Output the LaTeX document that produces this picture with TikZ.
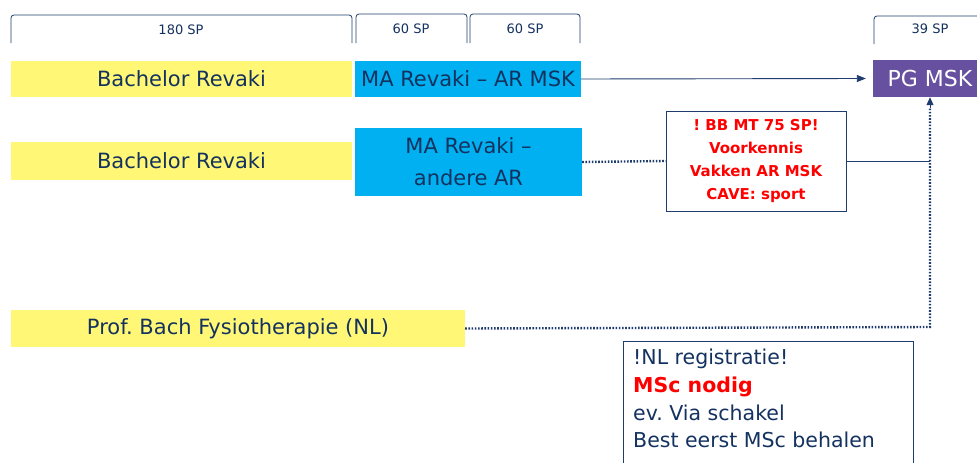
\documentclass[tikz,border=0pt]{standalone}
\usepackage{fontspec}
\setmainfont{DejaVu Sans}
\usetikzlibrary{arrows.meta}
\frenchspacing
\definecolor{navy}{RGB}{20,50,95}
\definecolor{lineblue}{RGB}{31,60,110}
\definecolor{ylw}{RGB}{255,247,117}
\definecolor{cyanb}{RGB}{0,176,240}
\definecolor{purp}{RGB}{104,80,160}
\definecolor{redt}{RGB}{255,0,0}
\begin{document}
\begin{tikzpicture}[x=1pt,y=-1pt,
  bar/.style={minimum height=36, inner sep=0, text=navy, font=\fontsize{21}{24}\selectfont},
  ybar/.style={bar, fill=ylw},
  cbar/.style={bar, fill=cyanb},
  tab/.style={draw=lineblue, line width=0.8pt, rounded corners=3pt},
  tablbl/.style={text=navy, font=\fontsize{13}{15}\selectfont},
  dots/.style={draw=lineblue, line width=2.4pt, dash pattern=on 1.6pt off 1.6pt},
  conn/.style={draw=lineblue, line width=0.9pt}
]
\clip (0,0) rectangle (977,463);
\fill[white] (0,0) rectangle (977,463);
% tabs
\draw[tab] (11,43) -- (11,15) -- (352,15) -- (352,43);
\node[tablbl] (t180) at (181,30) {180 SP};
\draw[tab] (356,43) -- (356,14) -- (467,14) -- (467,43);
\node[tablbl] (t60a) at (411,29) {60 SP};
\draw[tab] (470,43) -- (470,14) -- (580,14) -- (580,43);
\node[tablbl] (t60b) at (525,29) {60 SP};
\draw[tab] (874,44) -- (874,16) -- (1000,16);
\node[tablbl] (t39) at (930,29) {39 SP};
% row 1
\node[ybar, minimum width=341] (b1) at (181.5,79) {Bachelor Revaki};
\node[cbar, minimum width=226] (ma1) at (468,79) {MA Revaki – AR MSK};
\node[bar, fill=purp, text=white, minimum width=114, minimum height=37, font=\fontsize{22}{24}\selectfont] (pg) at (930,78.5) {PG MSK};
\draw[conn, -{Triangle[length=9pt,width=7pt]}] (ma1.east) -- ([xshift=-7]pg.west);
% row 2
\node[ybar, minimum width=341, minimum height=38] (b2) at (181.5,161) {Bachelor Revaki};
\node[cbar, minimum width=227, minimum height=68, align=center, font=\fontsize{21}{32}\selectfont] (ma2) at (468.5,162) {MA Revaki –\\andere AR};
\node[draw=lineblue, line width=0.9pt, fill=white, minimum width=180, minimum height=100, inner sep=0, align=center, text=redt, font=\bfseries\fontsize{15}{23}\selectfont] (cave) at (756,161) {! BB MT 75 SP!\\Voorkennis\\Vakken AR MSK\\CAVE: sport};
\draw[dots] (ma2.east) -- (cave.west);
\coordinate (j) at (930,161);
\draw[conn] (cave.east) -- (j);
% row 3
\node[ybar, minimum width=454, minimum height=37] (prof) at (238,328.5) {Prof. Bach Fysiotherapie (NL)};
\coordinate (c) at (930,327);
\draw[dots] (prof.east) -- (c) -- ([yshift=-10]pg.south);
\draw[conn, -{Triangle[length=8pt,width=7pt]}] ([yshift=-11]pg.south) -- (pg.south);
% note
\node[draw=lineblue, line width=0.9pt, fill=white, minimum width=290, minimum height=140, inner sep=0, anchor=north west] (note) at (623,341) {};
\node[anchor=north west, inner sep=0, text=navy, align=left, font=\fontsize{20.5}{27.7}\selectfont] (notetxt) at (633,349) {!NL registratie!\\\textcolor{redt}{\bfseries MSc nodig}\\ev. Via schakel\\Best eerst MSc behalen};
\end{tikzpicture}
\end{document}
